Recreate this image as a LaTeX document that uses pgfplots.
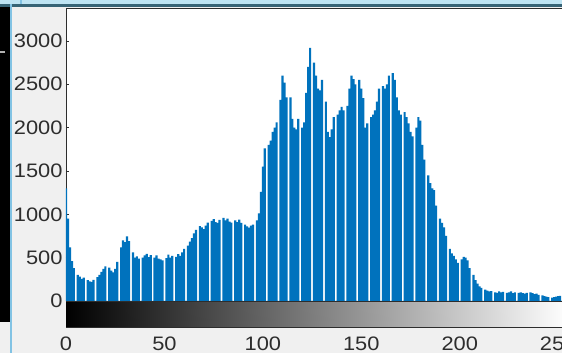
\documentclass[border=0pt]{standalone}
\usepackage{pgfplots}
\pgfplotsset{compat=1.18}
\usepackage{fontspec}
\setmainfont{Liberation Sans}[FakeStretch=1.12]
\definecolor{barblue}{RGB}{0,114,189}
\definecolor{figbg}{RGB}{240,240,240}
\definecolor{axgray}{RGB}{45,45,45}
\definecolor{topteal}{RGB}{55,100,118}
\definecolor{toplight}{RGB}{190,228,243}
\definecolor{edgeblue}{RGB}{130,195,228}
\pgfplotstableread[row sep=\\]{
bin count\\
0 1300\\ 1 950\\ 2 620\\ 3 460\\ 4 380\\ 5 0\\ 6 300\\ 7 280\\ 8 255\\ 9 270\\
10 0\\ 11 240\\ 12 225\\ 13 220\\ 14 245\\ 15 0\\ 16 275\\ 17 300\\ 18 335\\ 19 370\\
20 400\\ 21 0\\ 22 385\\ 23 350\\ 24 330\\ 25 370\\ 26 450\\ 27 0\\ 28 620\\ 29 700\\
30 680\\ 31 745\\ 32 690\\ 33 0\\ 34 560\\ 35 500\\ 36 515\\ 37 490\\ 38 0\\ 39 500\\
40 525\\ 41 545\\ 42 505\\ 43 530\\ 44 0\\ 45 500\\ 46 525\\ 47 490\\ 48 480\\ 49 470\\
50 0\\ 51 495\\ 52 535\\ 53 500\\ 54 520\\ 55 0\\ 56 510\\ 57 540\\ 58 520\\ 59 560\\
60 600\\ 61 0\\ 62 640\\ 63 685\\ 64 725\\ 65 780\\ 66 820\\ 67 0\\ 68 865\\ 69 850\\
70 830\\ 71 870\\ 72 905\\ 73 0\\ 74 925\\ 75 945\\ 76 910\\ 77 900\\ 78 935\\ 79 0\\
80 960\\ 81 930\\ 82 950\\ 83 915\\ 84 905\\ 85 0\\ 86 930\\ 87 910\\ 88 940\\ 89 900\\
90 0\\ 91 880\\ 92 860\\ 93 845\\ 94 870\\ 95 880\\ 96 0\\ 97 930\\ 98 1010\\ 99 1260\\
100 1550\\ 101 1760\\ 102 0\\ 103 1800\\ 104 1850\\ 105 1950\\ 106 2000\\ 107 2060\\ 108 0\\ 109 2320\\
110 2600\\ 111 2520\\ 112 2350\\ 113 0\\ 114 2350\\ 115 2100\\ 116 2000\\ 117 1980\\ 118 2100\\ 119 0\\
120 2000\\ 121 2060\\ 122 2400\\ 123 2700\\ 124 2920\\ 125 0\\ 126 2750\\ 127 2600\\ 128 2450\\ 129 2430\\
130 2550\\ 131 0\\ 132 2300\\ 133 1950\\ 134 1890\\ 135 1980\\ 136 2120\\ 137 0\\ 138 2150\\ 139 2200\\
140 2240\\ 141 2200\\ 142 0\\ 143 2250\\ 144 2450\\ 145 2600\\ 146 2560\\ 147 2500\\ 148 0\\ 149 2550\\
150 2450\\ 151 2340\\ 152 2000\\ 153 2050\\ 154 0\\ 155 2120\\ 156 2150\\ 157 2200\\ 158 2300\\ 159 2450\\
160 0\\ 161 2480\\ 162 2450\\ 163 2500\\ 164 2600\\ 165 0\\ 166 2630\\ 167 2550\\ 168 2350\\ 169 2200\\
170 2150\\ 171 0\\ 172 2180\\ 173 2120\\ 174 2050\\ 175 1950\\ 176 1900\\ 177 0\\ 178 2000\\ 179 2120\\
180 2080\\ 181 1800\\ 182 1630\\ 183 0\\ 184 1450\\ 185 1360\\ 186 1300\\ 187 1280\\ 188 1100\\ 189 0\\
190 950\\ 191 900\\ 192 850\\ 193 750\\ 194 0\\ 195 600\\ 196 550\\ 197 520\\ 198 480\\ 199 440\\
200 0\\ 201 480\\ 202 510\\ 203 500\\ 204 470\\ 205 380\\ 206 0\\ 207 300\\ 208 240\\ 209 200\\
210 170\\ 211 150\\ 212 0\\ 213 130\\ 214 120\\ 215 110\\ 216 115\\ 217 0\\ 218 100\\ 219 95\\
220 110\\ 221 100\\ 222 105\\ 223 0\\ 224 95\\ 225 100\\ 226 110\\ 227 90\\ 228 100\\ 229 0\\
230 95\\ 231 100\\ 232 90\\ 233 85\\ 234 95\\ 235 0\\ 236 100\\ 237 90\\ 238 80\\ 239 85\\
240 70\\ 241 0\\ 242 65\\ 243 55\\ 244 50\\ 245 45\\ 246 0\\ 247 40\\ 248 45\\ 249 50\\
250 55\\ 251 60\\ 252 0\\ 253 55\\ 254 50\\ 255 60\\
}\histdata
\begin{document}
\begin{tikzpicture}
\useasboundingbox (0pt,0pt) rectangle (562pt,353pt);
\clip (0pt,0pt) rectangle (562pt,353pt);
\fill[figbg] (0pt,0pt) rectangle (562pt,353pt);
\begin{axis}[
  at={(66pt,52pt)}, anchor=south west,
  scale only axis, width=502pt, height=293pt,
  xmin=0, xmax=255, ymin=0, ymax=3380,
  axis background/.style={fill=white},
  axis line style={axgray, line width=0.8pt},
  xtick=\empty,
  ytick={0,500,...,3000},
  ytick pos=left, tick align=inside, major tick length=3pt,
  tick style={axgray, line width=0.6pt},
  /pgf/number format/assume math mode=true,
  /pgf/number format/1000 sep={},
  yticklabel style={font=\fontsize{19.5}{20}\selectfont, text=axgray},
]
\addplot[ybar, bar width=1.12, bar shift=0pt, fill=barblue, draw=none] table[x=bin, y=count] {\histdata};
\end{axis}
\begin{axis}[
  at={(66pt,26pt)}, anchor=south west,
  scale only axis, width=502pt, height=25pt,
  xmin=0, xmax=255, ymin=0, ymax=1,
  ytick=\empty,
  xtick={0,50,...,250},
  xtick pos=both, tick align=inside, major tick length=3pt,
  tick style={axgray, line width=0.6pt},
  axis line style={axgray, line width=0.8pt},
  colormap={bw}{gray(0cm)=(0); gray(1cm)=(1)},
  /pgf/number format/assume math mode=true,
  xticklabel style={font=\fontsize{19.5}{20}\selectfont, text=axgray, inner ysep=1pt, yshift=-8.5pt},
]
\addplot[patch, shader=interp, point meta=x] coordinates {(0,0) (255,0) (255,1) (0,0) (255,1) (0,1)};
\end{axis}
\fill[toplight] (0pt,349pt) rectangle (562pt,353pt);
\fill[topteal] (0pt,345.5pt) rectangle (562pt,349pt);
\fill[black] (0pt,31pt) rectangle (10pt,345.5pt);
\fill[edgeblue] (10pt,0pt) rectangle (12pt,349pt);
\fill[edgeblue] (20pt,349pt) rectangle (21.5pt,353pt);
\fill[gray!60] (0pt,300pt) rectangle (5pt,302pt);
\end{tikzpicture}
\end{document}
